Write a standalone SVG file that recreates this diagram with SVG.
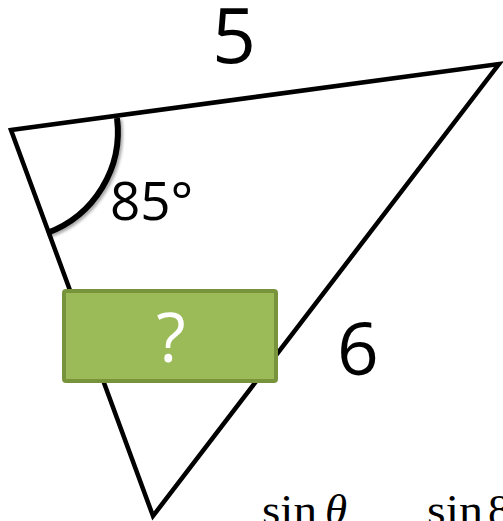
<svg xmlns="http://www.w3.org/2000/svg" width="503" height="521" viewBox="0 0 503 521">
  <defs>
    <filter id="sh" x="-20%" y="-20%" width="140%" height="140%">
      <feGaussianBlur in="SourceAlpha" stdDeviation="1.5"/>
      <feOffset dx="2" dy="2" result="b"/>
      <feComponentTransfer><feFuncA type="linear" slope="0.35"/></feComponentTransfer>
      <feMerge><feMergeNode/><feMergeNode in="SourceGraphic"/></feMerge>
    </filter>
  </defs>
  <style>
    .edge { fill: none; stroke: #000; stroke-width: 4.5; stroke-linejoin: miter; }
    .lbl { font-family: "Open Sans", "Liberation Sans", sans-serif; fill: #000; }
    .math { font-family: "Liberation Serif", "DejaVu Serif", serif; font-size: 45px; fill: #000; }
  </style>
  <rect width="503" height="521" fill="#fff"/>
  <g id="connectors">
    <polygon class="edge" points="11,130 499,64 153,516"/>
  </g>
  <g id="angle-arc">
    <path d="M117,118 A108,108 0 0 1 47,233" fill="none" stroke="#000" stroke-width="6" filter="url(#sh)"/>
    <text class="lbl" x="110" y="220" font-size="53">85°</text>
  </g>
  <g id="label-5">
    <text class="lbl" x="212" y="63" font-size="77">5</text>
  </g>
  <g id="label-6">
    <text class="lbl" x="337" y="375" font-size="73">6</text>
  </g>
  <g id="unknown-box">
    <rect x="64" y="291" width="212" height="90" rx="2" fill="#9BBB59" stroke="#77933C" stroke-width="4"/>
    <text class="lbl" x="171" y="362" font-size="68" style="fill:#fff" text-anchor="middle">?</text>
  </g>
  <g id="formula">
    <text class="math" x="262" y="525" textLength="55" lengthAdjust="spacingAndGlyphs">sin</text>
    <text class="math" x="325" y="525" font-style="italic">θ</text>
    <text class="math" x="427" y="525" textLength="56" lengthAdjust="spacingAndGlyphs">sin</text>
    <text class="math" x="488" y="525">8</text>
  </g>
</svg>
